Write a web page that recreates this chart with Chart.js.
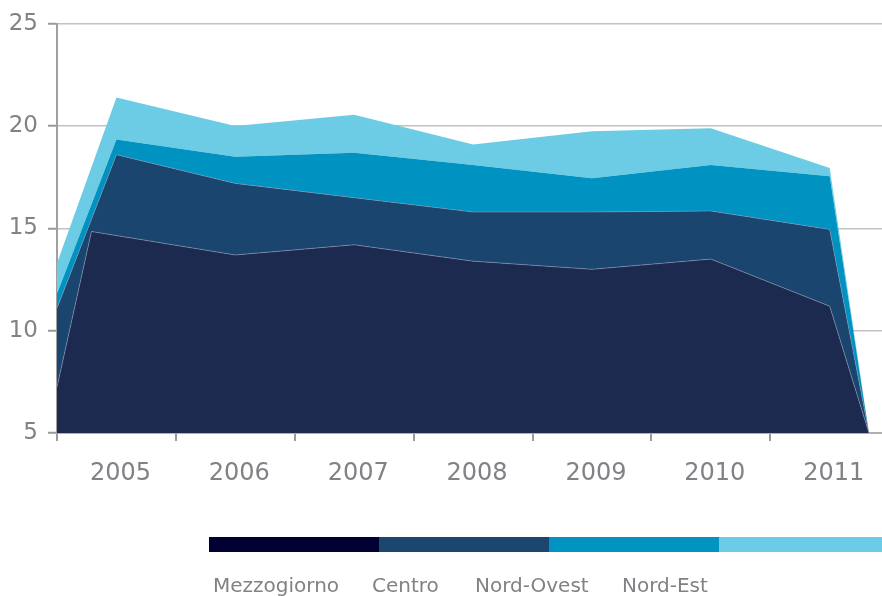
<!DOCTYPE html>
<html>
<head>
<meta charset="utf-8">
<script src="https://cdn.jsdelivr.net/npm/chart.js@4"></script>
<style>
  html, body { margin: 0; padding: 0; background: #ffffff; }
  #wrap { width: 882px; height: 596px; overflow: hidden; }
</style>
</head>
<body>
<div id="wrap"><canvas id="c" width="882" height="596"></canvas></div>
<script>
// ---- data (top boundaries of each stacked band) ----
const seriesNames = ['Mezzogiorno', 'Centro', 'Nord-Ovest', 'Nord-Est'];
const tickYears = [2005, 2006, 2007, 2008, 2009, 2010, 2011];
const xPoints = [2004.5, 2005, 2006, 2007, 2008, 2009, 2010, 2011, 2011.33];
const xPointsMezzogiorno = [2004.5, 2004.79, 2006, 2007, 2008, 2009, 2010, 2011, 2011.33];
const mezzogiornoTop = [7.25, 14.85, 13.7, 14.2, 13.4, 13.0, 13.5, 11.2, 5];
const centroTop = [11.1, 18.6, 17.2, 16.5, 15.8, 15.8, 15.85, 14.95, 5];
const nordOvestTop = [11.8, 19.35, 18.5, 18.7, 18.1, 17.45, 18.1, 17.55, 5];
const nordEstTop = [13.3, 21.4, 20.0, 20.55, 19.1, 19.75, 19.9, 17.95, 5];
const yTicks = [5, 10, 15, 20, 25];

// ---- styles ----
const areaColors = ['#1c2a50', '#1a456e', '#0093c2', '#6ccce6'];
const legendColors = ['#000033', '#1a4670', '#0094c3', '#6ccbe6'];
const textColor = '#808285';
const fontFamily = '"DejaVu Sans", sans-serif';

function pts(xs, ys) { return xs.map((x, i) => ({ x: x, y: ys[i] })); }

const legendPlugin = {
  id: 'bottomLegend',
  afterDraw(chart) {
    const ctx = chart.ctx;
    ctx.save();
    const barX = 209, barY = 537, barW = 170, barH = 15;
    seriesNames.forEach((n, i) => {
      ctx.fillStyle = legendColors[i];
      ctx.fillRect(barX + i * barW, barY, barW, barH);
    });
    ctx.font = '20px ' + fontFamily;
    ctx.fillStyle = textColor;
    ctx.textBaseline = 'alphabetic';
    ctx.textAlign = 'left';
    const starts = [213, 372, 475, 622];
    seriesNames.forEach((n, i) => {
      ctx.fillText(n, starts[i], 592);
    });
    ctx.restore();
  }
};

new Chart(document.getElementById('c'), {
  type: 'line',
  data: {
    datasets: [
      { label: seriesNames[0], data: pts(xPointsMezzogiorno, mezzogiornoTop), backgroundColor: areaColors[0],
        borderColor: 'rgba(150,160,185,0.55)', borderWidth: 1, fill: 'start' },
      { label: seriesNames[1], data: pts(xPoints, centroTop), backgroundColor: areaColors[1],
        borderColor: 'rgba(150,165,190,0.45)', borderWidth: 1, fill: '-1' },
      { label: seriesNames[2], data: pts(xPoints, nordOvestTop), backgroundColor: areaColors[2],
        borderColor: areaColors[2], borderWidth: 0, fill: '-1' },
      { label: seriesNames[3], data: pts(xPoints, nordEstTop), backgroundColor: areaColors[3],
        borderColor: areaColors[3], borderWidth: 0, fill: '-1' }
    ]
  },
  options: {
    responsive: false,
    animation: false,
    devicePixelRatio: 1,
    layout: { padding: { top: 22, right: 0, bottom: 93, left: 0 } },
    elements: { point: { radius: 0, hoverRadius: 0 }, line: { tension: 0 } },
    plugins: { legend: { display: false }, tooltip: { enabled: false } },
    scales: {
      x: {
        type: 'linear',
        min: 2004.5,
        max: 2011.44,
        afterBuildTicks: (s) => { s.ticks = tickYears.map(v => ({ value: v })); },
        afterFit: (s) => { s.height = 70; },
        grid: { offset: true, drawOnChartArea: false, drawTicks: true, tickLength: 8, tickColor: '#9a9a9a', tickWidth: 2, lineWidth: 2 },
        border: { display: true, color: '#b0b0b0', width: 2 },
        ticks: { color: textColor, font: { family: fontFamily, size: 24 }, padding: 18, labelOffset: 4,
                 maxRotation: 0, autoSkip: false, callback: (v) => String(v) }
      },
      y: {
        min: 5,
        max: 25,
        z: 1,
        afterBuildTicks: (s) => { s.ticks = yTicks.map(v => ({ value: v })); },
        afterFit: (s) => { s.width = 57; },
        grid: { color: 'rgba(160,160,160,0.65)', lineWidth: 1.5, drawTicks: true, tickLength: 9, tickColor: '#9a9a9a', tickWidth: 2 },
        border: { display: true, color: '#a0a0a0', width: 2 },
        ticks: { color: textColor, font: { family: fontFamily, size: 23 }, padding: 10, callback: (v) => String(v) }
      }
    }
  },
  plugins: [legendPlugin]
});
</script>
</body>
</html>
